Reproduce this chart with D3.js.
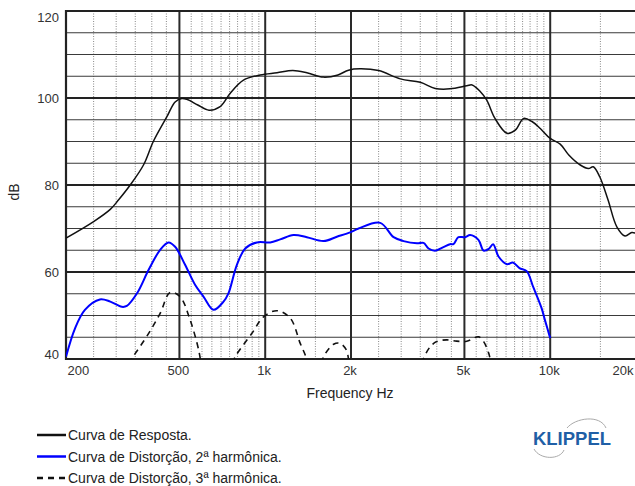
<!DOCTYPE html>
<html>
<head>
<meta charset="utf-8">
<script src="https://cdn.jsdelivr.net/npm/d3@7"></script>
<style>
  body { margin: 0; background: #fff; }
  svg { font-family: "Liberation Sans", Arial, sans-serif; }
</style>
</head>
<body>
<svg width="635" height="486"></svg>
<script>
// response curve [Hz, dB]
let response = [
  [200, 67.8], [250, 71.6], [286, 74.4], [306, 76.6], [336, 80], [374, 84.6],
  [405, 90], [452, 95.7], [483, 99.1], [510, 99.9], [531, 99.7], [580, 98.4],
  [635, 97.2], [695, 98.0], [754, 101.1], [839, 104.1], [960, 105.3], [1100, 105.8],
  [1250, 106.3], [1400, 105.8], [1600, 104.8], [1800, 105.3], [1960, 106.4],
  [2150, 106.7], [2500, 106.3], [2980, 104.4], [3500, 103.6], [3950, 102.2],
  [4450, 102.1], [5100, 102.8], [5320, 103.0], [5680, 101.5], [5990, 99.5],
  [6400, 95.3], [7050, 91.9], [7540, 92.6], [8070, 95.3], [8630, 94.6],
  [9230, 93.0], [10000, 90.7], [10840, 89.4], [11620, 86.9], [12750, 84.6],
  [13620, 83.8], [14160, 84.2], [14920, 81.9], [15950, 76.6], [17130, 70.4],
  [18300, 68.3], [19330, 69.1], [20000, 68.9]
];

// 2nd harmonic distortion
let harm2 = [
  [200, 40.5], [215, 47.0], [233, 51.3], [263, 53.7], [286, 53.2], [314, 52.0],
  [327, 52.2], [355, 55.1], [390, 60.5], [428, 65.1], [458, 66.8], [483, 65.8],
  [524, 61.6], [568, 57.0], [608, 54.3], [659, 51.3], [714, 53.2], [743, 55.1],
  [795, 61.6], [851, 65.4], [935, 66.8], [1041, 66.8], [1129, 67.5], [1257, 68.5],
  [1400, 68.0], [1602, 67.1], [1784, 68.1], [1987, 69.1], [2126, 70.0],
  [2533, 71.3], [2822, 68.0], [3059, 67.1], [3409, 66.6], [3594, 66.7],
  [3743, 65.4], [3946, 64.9], [4220, 65.7], [4454, 66.4], [4575, 66.4],
  [4762, 68.0], [5026, 68.0], [5236, 68.5], [5600, 67.4], [5840, 64.9],
  [6086, 65.3], [6303, 66.4], [6594, 63.5], [7050, 61.8], [7395, 62.2],
  [7800, 60.9], [8270, 60.2], [8723, 56.5], [9326, 51.7], [9578, 49.0],
  [10000, 44.8]
];

// 3rd harmonic distortion (null = gap below 40 dB)
let harm3 = [
  [330, 39.0], [340, 40.1], [390, 45.9], [428, 50.5], [464, 55.3], [503, 54.3],
  [545, 49.0], [584, 42.1], [595, 39.0], [600, null],
  [770, 39.0], [785, 40.5], [898, 45.9], [987, 49.7], [1099, 51.1], [1224, 49.4],
  [1327, 43.6], [1382, 40.9], [1400, 39.5], [1450, null],
  [1580, 39.0], [1602, 40.5], [1738, 43.4], [1833, 43.6], [1926, 42.1], [1960, 40.1],
  [1975, 39.0], [2000, null],
  [3550, 39.0], [3594, 40.1], [3790, 42.8], [3998, 44.0], [4335, 44.4], [4692, 44.1],
  [5096, 44.1], [5600, 45.1], [5840, 44.0], [6086, 41.3], [6200, 39.0]
];

let yTicks = [40, 60, 80, 100, 120];
let xTicks = [200, 500, 1000, 2000, 5000, 10000, 20000];
let xTickLabels = ["200", "500", "1k", "2k", "5k", "10k", "20k"];
let xMajor = [500, 1000, 2000, 5000, 10000];
let xMinor = [250, 300, 350, 400, 450, 550, 600, 650, 700, 750, 800, 850, 900, 950,
  1500, 2500, 3000, 3500, 4000, 4500, 5500, 6000, 6500, 7000, 7500, 8000, 8500, 9000, 9500, 15000];

let legendItems = [
  {label: "Curva de Resposta.", color: "#111", dash: null},
  {label: "Curva de Distorção, 2ª harmônica.", color: "#0000ff", dash: null},
  {label: "Curva de Distorção, 3ª harmônica.", color: "#111", dash: "6,5"}
];

let L = 66, R = 636, T = 11, B = 359;
let x = d3.scaleLog().domain([200, 20000]).range([L, R]);
let y = d3.scaleLinear().domain([40, 120]).range([B, T]);

let svg = d3.select("svg");

svg.append("clipPath").attr("id", "plot")
  .append("rect").attr("x", L).attr("y", T).attr("width", R - L).attr("height", B - T);

// minor dotted verticals
svg.append("g").selectAll("line").data(xMinor).enter().append("line")
  .attr("x1", d => x(d)).attr("x2", d => x(d))
  .attr("y1", T).attr("y2", B)
  .attr("stroke", "#888").attr("stroke-width", 1).attr("stroke-dasharray", "1,1.5");

// horizontal grid every 5 dB
svg.append("g").selectAll("line").data(d3.range(45, 120, 5)).enter().append("line")
  .attr("x1", L).attr("x2", R)
  .attr("y1", d => y(d)).attr("y2", d => y(d))
  .attr("stroke", d => d % 20 === 0 ? "#222" : "#3a3a3a")
  .attr("stroke-width", d => d % 20 === 0 ? 2.2 : 1.1);

// major verticals
svg.append("g").selectAll("line").data(xMajor).enter().append("line")
  .attr("x1", d => x(d)).attr("x2", d => x(d))
  .attr("y1", T).attr("y2", B)
  .attr("stroke", "#2a2a2a").attr("stroke-width", 2);

// frame (left, top, bottom)
svg.append("path")
  .attr("d", `M${R},${T}H${L}V${B}H${R}`)
  .attr("fill", "none").attr("stroke", "#222").attr("stroke-width", 2.2);

// curves
let line = d3.line()
  .defined(d => d[1] !== null)
  .x(d => x(d[0])).y(d => y(d[1]))
  .curve(d3.curveCatmullRom.alpha(0.5));

let curves = svg.append("g").attr("clip-path", "url(#plot)");
curves.append("path").datum(harm3).attr("d", line)
  .attr("fill", "none").attr("stroke", "#111").attr("stroke-width", 1.6)
  .attr("stroke-dasharray", "6,5");
curves.append("path").datum(response).attr("d", line)
  .attr("fill", "none").attr("stroke", "#111").attr("stroke-width", 1.5);
curves.append("path").datum(harm2).attr("d", line)
  .attr("fill", "none").attr("stroke", "#0000ff").attr("stroke-width", 2);

// y axis
let yAxis = svg.append("g").attr("transform", `translate(${L},0)`)
  .call(d3.axisLeft(y).tickValues(yTicks).tickSize(0).tickPadding(7));
yAxis.select(".domain").remove();
yAxis.selectAll("text")
  .attr("font-size", 13).attr("fill", "#333").attr("font-family", null)
  .attr("dy", d => d === 120 ? "0.8em" : d === 40 ? "-0.05em" : "0.36em");

// x axis
let xAxis = svg.append("g").attr("transform", `translate(0,${B})`)
  .call(d3.axisBottom(x).tickValues(xTicks).tickSize(0).tickPadding(7)
    .tickFormat((d, i) => xTickLabels[i]));
xAxis.select(".domain").remove();
xAxis.selectAll("text")
  .attr("font-size", 13).attr("fill", "#333").attr("font-family", null)
  .attr("text-anchor", d => d === 200 ? "start" : d === 20000 ? "end" : "middle")
  .attr("dx", d => d === 200 ? 1 : d === 20000 ? -3 : -1.5);

// axis titles
svg.append("text").attr("x", 350).attr("y", 398)
  .attr("text-anchor", "middle").attr("font-size", 14).attr("fill", "#222")
  .text("Frequency Hz");
svg.append("text").attr("transform", "translate(19,192) rotate(-90)")
  .attr("text-anchor", "middle").attr("font-size", 14).attr("fill", "#222")
  .text("dB");

// legend
let lg = svg.append("g").selectAll("g").data(legendItems).enter().append("g")
  .attr("transform", (d, i) => `translate(0,${435 + i * 21.5})`);
lg.append("line").attr("x1", 37).attr("x2", 66).attr("y1", 0).attr("y2", 0)
  .attr("stroke", d => d.color).attr("stroke-width", 2.5)
  .attr("stroke-dasharray", d => d.dash);
lg.append("text").attr("x", 68).attr("y", 5).attr("font-size", 14).attr("fill", "#222")
  .text(d => d.label);

// logo
let logo = svg.append("g");
logo.append("path").attr("d", "M567,428 C575,418 600,414 606,428")
  .attr("fill", "none").attr("stroke", "#aaa").attr("stroke-width", 1);
logo.append("path").attr("d", "M534,449 C540,460 560,460 564,450")
  .attr("fill", "none").attr("stroke", "#aaa").attr("stroke-width", 1);
logo.append("text").attr("x", 533).attr("y", 445)
  .attr("font-size", 19).attr("font-weight", "bold").attr("fill", "#1f5fa6")
  .attr("textLength", 78).attr("lengthAdjust", "spacingAndGlyphs")
  .text("KLIPPEL");
</script>
</body>
</html>
